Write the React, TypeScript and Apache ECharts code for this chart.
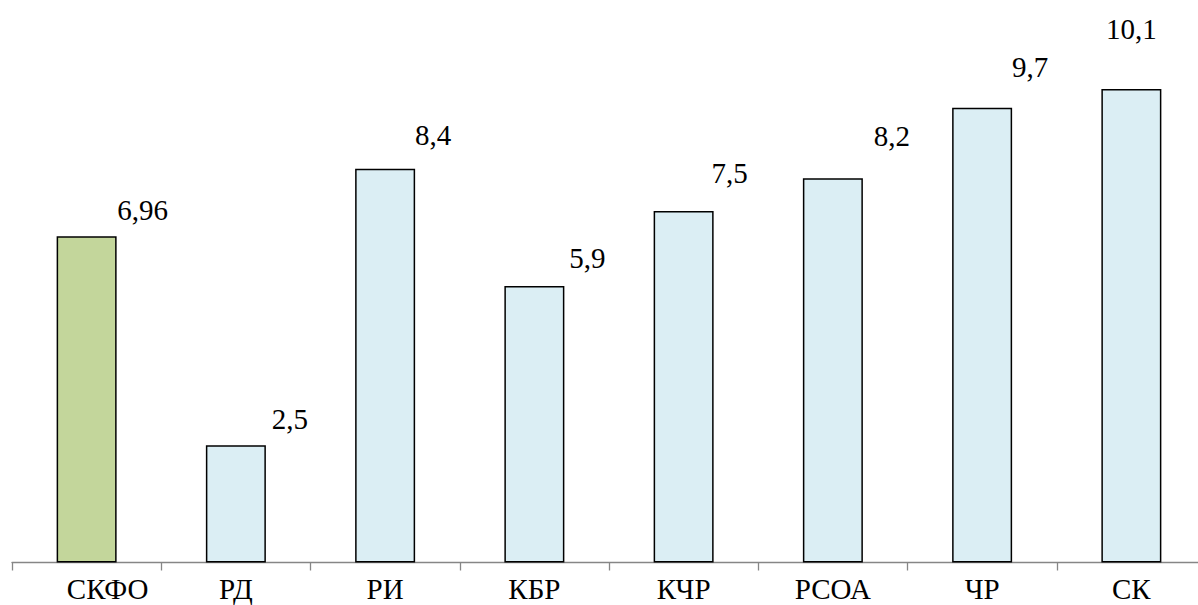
import React, { useEffect, useRef } from "react";
import * as echarts from "echarts";

const categories = ["СКФО", "РД", "РИ", "КБР", "КЧР", "РСОА", "ЧР", "СК"];
const values = [6.96, 2.5, 8.4, 5.9, 7.5, 8.2, 9.7, 10.1];
const barColors = ["#c3d69b", "#dbeef4", "#dbeef4", "#dbeef4", "#dbeef4", "#dbeef4", "#dbeef4", "#dbeef4"];
// label offsets (px) relative to bar top-centre
const labelDx = [56, 54, 48, 53, 46, 59, 48, 0];
const labelDy = [26, 26, 34, 28, 38, 42, 41, 60];

const FONT = "Liberation Serif";

export default function App() {
  const ref = useRef<HTMLDivElement>(null);
  useEffect(() => {
    document.body.style.margin = "0";
    const el = ref.current!;
    const chart = echarts.init(el, null, { renderer: "svg" });
    const BAR_W = 60;
    const patch = () => {
      el.querySelectorAll("text").forEach((t) => {
        t.setAttribute("font-family", FONT);
        (t as SVGTextElement).style.fontFamily = "'Liberation Serif', 'Times New Roman', serif";
      });
    };
    chart.on("finished", patch);
    chart.setOption({
      animation: false,
      backgroundColor: "#ffffff",
      textStyle: { fontFamily: FONT },
      grid: { left: 12, top: 0, width: 1194, height: 562.5, containLabel: false, outerBoundsMode: "none" },
      xAxis: {
        type: "category",
        data: categories,
        boundaryGap: true,
        axisLine: { show: true, lineStyle: { color: "#868686", width: 1.3 } },
        axisTick: { show: true, length: 8, inside: false, lineStyle: { color: "#868686", width: 1.3 } },
        axisLabel: {
          interval: 0,
          margin: 12,
          color: "#000",
          fontSize: 29,
          fontFamily: FONT,
          formatter: (v: string, i: number) => (i === 0 ? "{a|" + v + "}" : v),
          rich: { a: { fontSize: 29, fontFamily: FONT, color: "#000", padding: [0, 0, 0, 42] } },
        },
      },
      yAxis: { type: "value", min: 0, max: 12, show: false, splitLine: { show: false } },
      series: [
        {
          type: "bar",
          barWidth: BAR_W,
          data: values.map((v, i) => ({
            value: v,
            itemStyle: { color: barColors[i], borderColor: "#000", borderWidth: 1.5 },
            label: {
              show: true,
              position: [BAR_W / 2 + labelDx[i], -labelDy[i]],
              align: "center",
              verticalAlign: "middle",
              formatter: String(v).replace(".", ","),
              fontSize: 29,
              fontFamily: FONT,
              color: "#000",
            },
          })),
        },
      ],
    });
    patch();
    const t1 = setTimeout(patch, 50);
    const t2 = setTimeout(patch, 300);
    return () => {
      clearTimeout(t1);
      clearTimeout(t2);
      chart.dispose();
    };
  }, []);
  return <div ref={ref} style={{ width: 1198, height: 605 }} />;
}
